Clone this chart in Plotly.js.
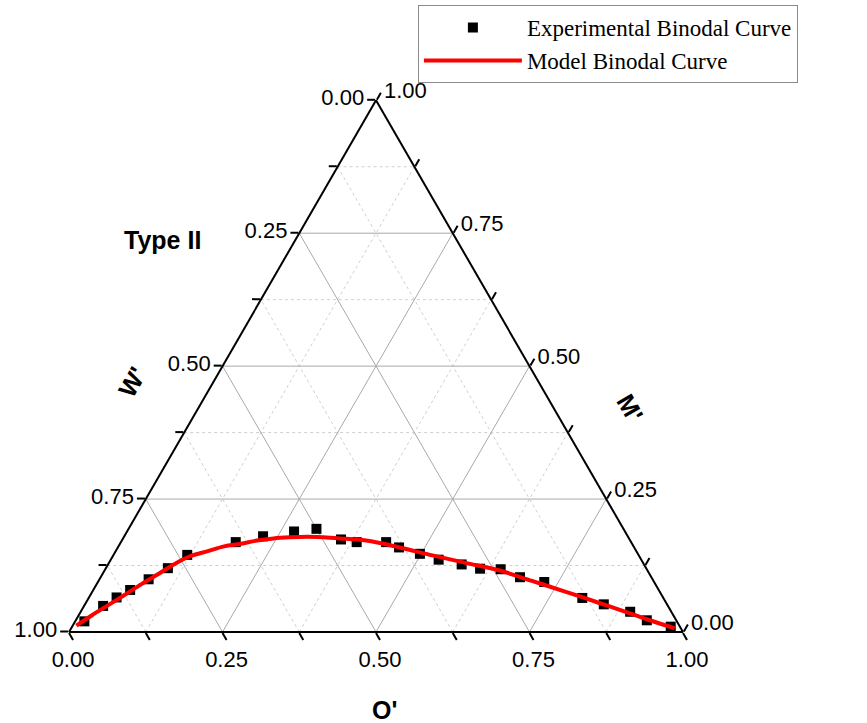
<!DOCTYPE html>
<html>
<head>
<meta charset="utf-8">
<script src="https://cdn.plot.ly/plotly-3.0.1.min.js"></script>
<style>
  html, body { margin: 0; padding: 0; background: #ffffff; }
  #chart { width: 867px; height: 723px; }
</style>
</head>
<body>
<div id="chart"></div>
<script>
// Type II binodal curve, mass fractions.
// M' sits at the top corner, W' at the bottom-left corner, O' at the bottom-right corner.
const expM = [0.020, 0.049, 0.065, 0.079, 0.099, 0.120, 0.145, 0.169, 0.180, 0.189, 0.194, 0.174, 0.169, 0.169,
              0.159, 0.147, 0.136, 0.127, 0.119, 0.118, 0.103, 0.094, 0.064, 0.052, 0.038, 0.022, 0.010];
const expW = [0.966, 0.920, 0.891, 0.861, 0.820, 0.779, 0.735, 0.644, 0.594, 0.539, 0.500, 0.470, 0.447, 0.399,
              0.383, 0.355, 0.330, 0.297, 0.271, 0.238, 0.214, 0.179, 0.132, 0.103, 0.067, 0.048, 0.015];
const expO = [0.015, 0.031, 0.045, 0.060, 0.080, 0.101, 0.120, 0.187, 0.226, 0.272, 0.306, 0.356, 0.384, 0.432,
              0.458, 0.498, 0.534, 0.576, 0.610, 0.644, 0.683, 0.727, 0.804, 0.845, 0.895, 0.931, 0.976];

const modelM = [0.012, 0.032, 0.051, 0.070, 0.090, 0.109, 0.128, 0.143, 0.152, 0.161, 0.166, 0.172, 0.176, 0.178,
                0.179, 0.178, 0.176, 0.172, 0.159, 0.144, 0.130, 0.116, 0.096, 0.076, 0.055, 0.034, 0.023, 0.007];
const modelW = [0.982, 0.946, 0.910, 0.874, 0.837, 0.800, 0.764, 0.730, 0.698, 0.667, 0.637, 0.608, 0.579, 0.551,
                0.523, 0.497, 0.471, 0.430, 0.382, 0.336, 0.289, 0.242, 0.198, 0.154, 0.110, 0.067, 0.045, 0.010];
const modelO = [0.006, 0.022, 0.039, 0.056, 0.073, 0.091, 0.108, 0.127, 0.150, 0.172, 0.197, 0.220, 0.245, 0.271,
                0.298, 0.325, 0.353, 0.398, 0.459, 0.520, 0.581, 0.642, 0.706, 0.770, 0.835, 0.899, 0.932, 0.983];

// Tick positions along each edge
const majorTicks = [0, 0.25, 0.5, 0.75, 1];
const minorTicks = [0.125, 0.375, 0.625, 0.875];

const sansFont = 'Liberation Sans, Arial, sans-serif';
const serifFont = 'Liberation Serif, Times New Roman, serif';

// All tick marks; only the major ones carry a label.
// Each edge is labelled with the complementary fraction that runs along it.
const allTicks = majorTicks.concat(minorTicks).sort((p, q) => p - q);
const tickLabels = allTicks.map(v => majorTicks.includes(v) ? (1 - v).toFixed(2) : '');

// Grid lines of constant a, b and c at the given levels, joined with gaps
function gridLines(levels) {
  const a = [], b = [], c = [];
  levels.forEach(v => {
    a.push(v, v, null);         b.push(1 - v, 0, null);     c.push(0, 1 - v, null);
    a.push(0, 1 - v, null);     b.push(v, v, null);         c.push(1 - v, 0, null);
    a.push(0, 1 - v, null);     b.push(1 - v, 0, null);     c.push(v, v, null);
  });
  return { a, b, c };
}

const majorGrid = gridLines(majorTicks.filter(v => v > 0 && v < 1));
const minorGrid = gridLines(minorTicks);

const traces = [
  {
    type: 'scatterternary', mode: 'lines', showlegend: false, hoverinfo: 'skip',
    a: minorGrid.a, b: minorGrid.b, c: minorGrid.c,
    line: { color: '#cfcfcf', width: 1, dash: '3px,3px' }
  },
  {
    type: 'scatterternary', mode: 'lines', showlegend: false, hoverinfo: 'skip',
    a: majorGrid.a, b: majorGrid.b, c: majorGrid.c,
    line: { color: '#a9a9a9', width: 1 }
  },
  {
    type: 'scatterternary',
    mode: 'markers',
    name: 'Experimental Binodal Curve',
    a: expM, b: expW, c: expO,
    marker: { symbol: 'square', size: 10, color: '#000000' },
    cliponaxis: false
  },
  {
    type: 'scatterternary',
    mode: 'lines',
    name: 'Model Binodal Curve',
    a: modelM, b: modelW, c: modelO,
    line: { color: '#ff0000', width: 4, shape: 'spline' },
    cliponaxis: false
  }
];

function edgeAxis() {
  return {
    min: 0,
    tickmode: 'array',
    tickvals: allTicks,
    ticktext: tickLabels,
    ticks: 'outside', ticklen: 8, tickwidth: 2, tickcolor: '#000000',
    showline: true, linecolor: '#000000', linewidth: 2,
    showgrid: false,
    tickfont: { family: sansFont, size: 22, color: '#000000' },
    title: { text: '' }
  };
}

const layout = {
  width: 867,
  height: 723,
  margin: { l: 0, r: 0, t: 0, b: 0 },
  paper_bgcolor: '#ffffff',
  showlegend: true,
  legend: {
    x: 0.482, y: 0.993, xanchor: 'left', yanchor: 'top',
    bordercolor: '#8c8c8c', borderwidth: 1, bgcolor: '#ffffff',
    font: { family: serifFont, size: 23, color: '#000000' },
    itemwidth: 98
  },
  ternary: {
    domain: { x: [0.0796, 0.7878], y: [0.1259, 0.8613] },
    sum: 1, bgcolor: '#ffffff',
    aaxis: edgeAxis(), baxis: edgeAxis(), caxis: edgeAxis()
  },
  annotations: [
    { text: '<b>Type II</b>', x: 0.188, y: 0.668, xref: 'paper', yref: 'paper',
      xanchor: 'center', yanchor: 'middle', showarrow: false,
      font: { family: sansFont, size: 25, color: '#000000' } },
    { text: "<b>W'</b>", x: 0.152, y: 0.472, xref: 'paper', yref: 'paper',
      xanchor: 'center', yanchor: 'middle', showarrow: false, textangle: -60,
      font: { family: sansFont, size: 25, color: '#000000' } },
    { text: "<b>M'</b>", x: 0.727, y: 0.436, xref: 'paper', yref: 'paper',
      xanchor: 'center', yanchor: 'middle', showarrow: false, textangle: 60,
      font: { family: sansFont, size: 25, color: '#000000' } },
    { text: "<b>O'</b>", x: 0.444, y: 0.018, xref: 'paper', yref: 'paper',
      xanchor: 'center', yanchor: 'middle', showarrow: false,
      font: { family: sansFont, size: 25, color: '#000000' } }
  ]
};

Plotly.newPlot('chart', traces, layout, { displayModeBar: false, staticPlot: true });
</script>
</body>
</html>
